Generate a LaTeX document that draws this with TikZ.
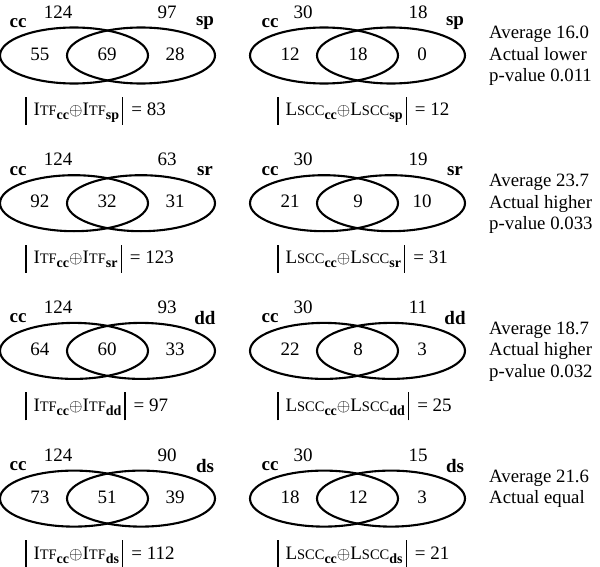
\documentclass[tikz,border=0pt]{standalone}
\usepackage{fontspec}
\setmainfont{Liberation Serif}
\newcommand\vbar{\rule[-9pt]{1.3pt}{28pt}}
\newcommand\scs[1]{{\fontsize{14.5}{14.5}\selectfont #1}}
\newcommand\subb[1]{\raisebox{-4pt}{\fontsize{14}{14}\selectfont\bfseries #1}}
\newcommand\itfx[1]{I\scs{TF}\subb{#1}}
\newcommand\lsccx[1]{L\scs{SCC}\subb{#1}}
\newcommand\formula[3]{\vbar\hspace{7pt}#1{cc}$\oplus$#1{#2}\hspace{3pt}\vbar\hspace{8pt}= #3}
\tikzset{
  venn/.style={line width=2.1pt},
  txt/.style={inner sep=0pt, font=\fontsize{19}{21}\selectfont},
  lbl/.style={inner sep=0pt, font=\fontsize{19}{21}\selectfont\bfseries},
  side/.style={inner sep=0pt, anchor=base west, font=\fontsize{18.8}{21}\selectfont},
}
\begin{document}
\begin{tikzpicture}[x=1pt,y=-1pt]
\useasboundingbox (0,0) rectangle (600,567);
\foreach \r/\tb/\lab/\la/\lb/\lc/\fl/\rt/\ra/\rb/\rc/\fr/\avg/\act/\pv in {
  1/97/sp/55/69/28/83/18/12/18/0/12/16.0/lower/0.011,
  2/63/sr/92/32/31/123/19/21/9/10/31/23.7/higher/0.033,
  3/93/dd/64/60/33/97/11/22/8/3/25/18.7/higher/0.032,
  4/90/ds/73/51/39/112/15/18/12/3/21/21.6/equal/none}{
  \pgfmathsetmacro\cy{54+147.7*(\r-1)}
  % left venn
  \draw[venn] (74,\cy+1.5) ellipse [x radius=74, y radius=28];
  \draw[venn] (141,\cy+1.5) ellipse [x radius=74, y radius=28];
  \node[txt] (l\r t1) at (58,\cy-42) {124};
  \node[txt] (l\r t2) at (167,\cy-42) {\tb};
  \node[lbl] (l\r s1) at (18,\cy-31) {cc};
  \node[lbl] (l\r s2) at (205,\cy-31) {\lab};
  \node[txt] (l\r a) at (40,\cy) {\la};
  \node[txt] (l\r b) at (107,\cy) {\lb};
  \node[txt] (l\r c) at (175,\cy) {\lc};
  \node[txt, anchor=base west] (l\r f) at (25,\cy+62) {\formula{\itfx}{\lab}{\fl}};
  % right venn
  \draw[venn] (324,\cy+1.5) ellipse [x radius=74, y radius=28];
  \draw[venn] (391,\cy+1.5) ellipse [x radius=74, y radius=28];
  \node[txt] (r\r t1) at (303,\cy-42) {30};
  \node[txt] (r\r t2) at (418,\cy-42) {\rt};
  \node[lbl] (r\r s1) at (270,\cy-31) {cc};
  \node[lbl] (r\r s2) at (455,\cy-31) {\lab};
  \node[txt] (r\r a) at (290,\cy) {\ra};
  \node[txt] (r\r b) at (358,\cy) {\rb};
  \node[txt] (r\r c) at (422,\cy) {\rc};
  \node[txt, anchor=base west] (r\r f) at (277,\cy+62) {\formula{\lsccx}{\lab}{\fr}};
  % side text
  \node[side] (s\r a) at (489,\cy-15) {Average \avg};
  \node[side] (s\r b) at (489,\cy+6.5) {Actual \act};
  \ifnum\r<4
    \node[side] (s\r c) at (489,\cy+28) {p-value \pv};
  \fi
}
\end{tikzpicture}
\end{document}
